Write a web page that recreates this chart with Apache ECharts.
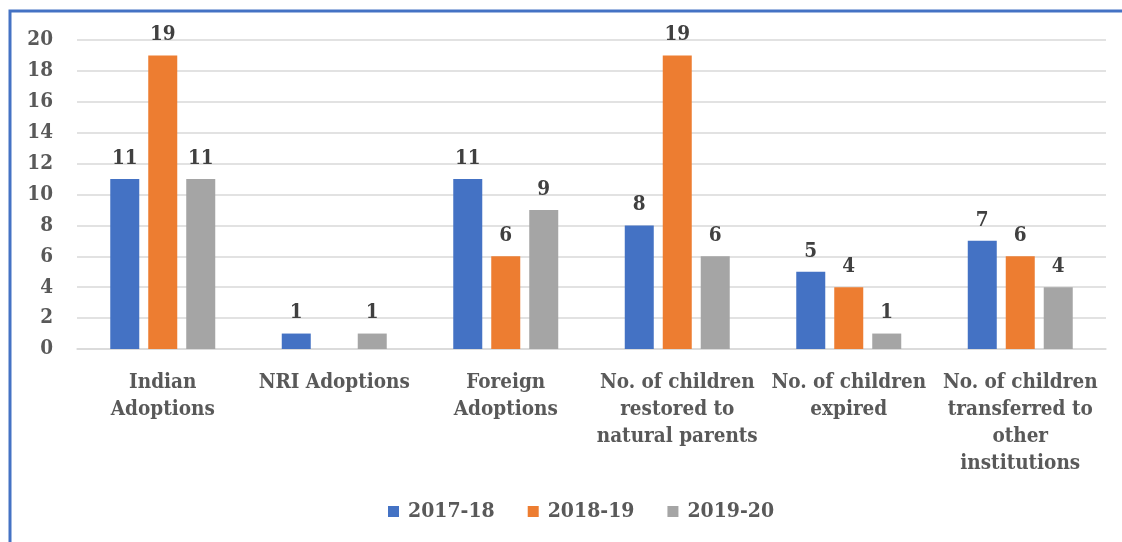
<!DOCTYPE html>
<html><head><meta charset="utf-8">
<script src="https://cdn.jsdelivr.net/npm/echarts@6/dist/echarts.min.js"></script>
<style>html,body{margin:0;padding:0;background:#fff}#c{width:1122px;height:542px}</style>
</head><body><div id="c"></div>
<script>
const categories = ["Indian\nAdoptions", "NRI Adoptions", "Foreign\nAdoptions", "No. of children\nrestored to\nnatural parents", "No. of children\nexpired", "No. of children\ntransferred to\nother\ninstitutions"];
const seriesNames = ["2017-18", "2018-19", "2019-20"];
const s2017 = [11, 1, 11, 8, 5, 7];
const s2018 = [19, null, 6, 19, 4, 6];
const s2019 = [11, 1, 9, 6, 1, 4];
const yTicks = [0, 2, 4, 6, 8, 10, 12, 14, 16, 18, 20];
const colors = ["#4472C4", "#ED7D31", "#A5A5A5"];
const FONT = "DejaVu Serif Condensed";
const chart = echarts.init(document.getElementById('c'));
const mk = (name, data, i) => ({
  name, type: 'bar', data, barWidth: 29, barGap: '31%',
  itemStyle: { color: colors[i] },
  label: { show: true, position: 'top', distance: 10, fontFamily: FONT, fontWeight: 'bold', fontSize: 20.5, color: '#404040' }
});
chart.setOption({
  animation: false,
  textStyle: { fontFamily: FONT },
  grid: { left: 77, right: 16, top: 40, bottom: 193, containLabel: false },
  legend: { bottom: 15, left: 383, itemWidth: 11, itemHeight: 11, itemGap: 33, icon: 'rect',
    textStyle: { fontFamily: FONT, fontWeight: 'bold', fontSize: 21, color: '#595959', padding: [0, 0, 0, 4] }, data: seriesNames },
  xAxis: { type: 'category', data: categories,
    axisLine: { lineStyle: { color: '#d9d9d9', width: 1.5 } }, axisTick: { show: false },
    axisLabel: { interval: 0, margin: 20, fontFamily: FONT, fontWeight: 'bold', fontSize: 20.5, lineHeight: 27, color: '#595959' } },
  yAxis: { type: 'value', min: yTicks[0], max: yTicks[yTicks.length - 1], interval: 2,
    axisLine: { show: false }, axisTick: { show: false },
    splitLine: { lineStyle: { color: '#d9d9d9', width: 1.5 } },
    axisLabel: { margin: 24, fontFamily: FONT, fontWeight: 'bold', fontSize: 20.5, color: '#595959' } },
  series: [mk(seriesNames[0], s2017, 0), mk(seriesNames[1], s2018, 1), mk(seriesNames[2], s2019, 2)],
  graphic: [{ type: 'rect', shape: { x: 10, y: 11, width: 1200, height: 700 }, style: { fill: 'none', stroke: '#4472C4', lineWidth: 3 }, silent: true }]
});
</script></body></html>
